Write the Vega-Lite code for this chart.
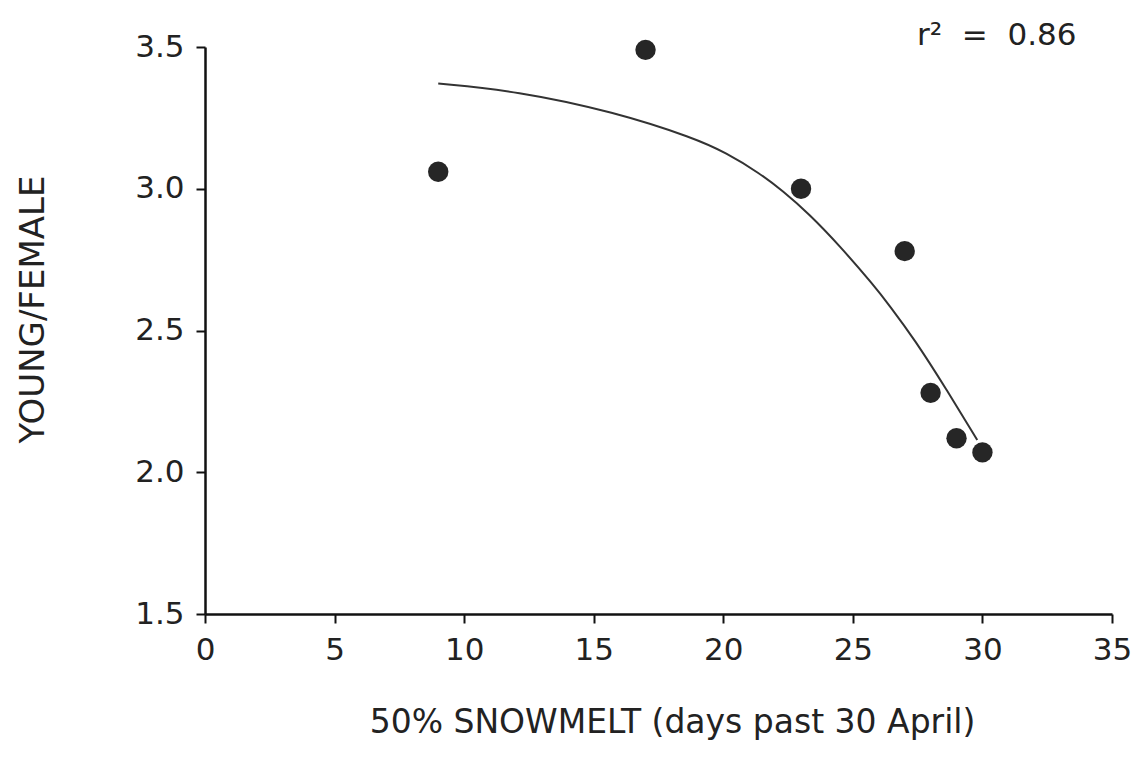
{
  "$schema": "https://vega.github.io/schema/vega-lite/v6.json",
  "width": 907,
  "height": 567,
  "autosize": {"type": "none"},
  "padding": {"left": 205, "top": 47, "right": 28, "bottom": 143},
  "background": "white",
  "config": {"view": {"stroke": null}, "font": "DejaVu Sans"},
  "datasets": {
    "obs": [
      {"snowmelt": 9, "young": 3.06},
      {"snowmelt": 17, "young": 3.49},
      {"snowmelt": 23, "young": 3.0},
      {"snowmelt": 27, "young": 2.78},
      {"snowmelt": 28, "young": 2.28},
      {"snowmelt": 29, "young": 2.12},
      {"snowmelt": 30, "young": 2.07}
    ],
    "fit": [
      {"snowmelt": 9.0, "young": 3.371},
      {"snowmelt": 12.0, "young": 3.345},
      {"snowmelt": 15.8, "young": 3.271},
      {"snowmelt": 18.9, "young": 3.178},
      {"snowmelt": 20.1, "young": 3.127},
      {"snowmelt": 21.4, "young": 3.055},
      {"snowmelt": 22.3, "young": 2.992},
      {"snowmelt": 23.3, "young": 2.912},
      {"snowmelt": 24.5, "young": 2.798},
      {"snowmelt": 25.8, "young": 2.66},
      {"snowmelt": 26.4, "young": 2.59},
      {"snowmelt": 27.4, "young": 2.466},
      {"snowmelt": 28.6, "young": 2.294},
      {"snowmelt": 29.8, "young": 2.114}
    ],
    "note": [
      {"snowmelt": 33.63, "young": 3.507, "label": "r²\u00a0\u00a0=\u00a0\u00a00.86"}
    ]
  },
  "encoding": {
    "x": {
      "field": "snowmelt",
      "type": "quantitative",
      "scale": {"domain": [0, 35], "nice": false, "zero": false},
      "axis": {
        "values": [0, 5, 10, 15, 20, 25, 30, 35],
        "title": "50% SNOWMELT (days past 30 April)",
        "grid": false,
        "domainColor": "#111111",
        "domainWidth": 2.5,
        "tickColor": "#111111",
        "tickWidth": 2,
        "tickSize": 9,
        "labelPadding": 12,
        "labelFontSize": 31,
        "labelColor": "#222222",
        "labelFont": "DejaVu Sans",
        "labelFlush": false,
        "labelOverlap": false,
        "titleFont": "DejaVu Sans",
        "titleFontSize": 33,
        "titleFontWeight": "normal",
        "titleColor": "#222222",
        "titleX": 467,
        "titleY": 108,
        "titleAlign": "center",
        "titleBaseline": "middle"
      }
    },
    "y": {
      "field": "young",
      "type": "quantitative",
      "scale": {"domain": [1.5, 3.5], "nice": false, "zero": false},
      "axis": {
        "values": [1.5, 2.0, 2.5, 3.0, 3.5],
        "format": ".1f",
        "title": "YOUNG/FEMALE",
        "grid": false,
        "domainColor": "#111111",
        "domainWidth": 2.5,
        "tickColor": "#111111",
        "tickWidth": 2,
        "tickSize": 9,
        "labelPadding": 12,
        "labelFontSize": 31,
        "labelColor": "#222222",
        "labelFont": "DejaVu Sans",
        "labelFlush": false,
        "labelOverlap": false,
        "titleFont": "DejaVu Sans",
        "titleFontSize": 34,
        "titleFontWeight": "normal",
        "titleColor": "#222222",
        "titleAngle": -90,
        "titleX": -172,
        "titleY": 262,
        "titleAlign": "center",
        "titleBaseline": "middle"
      }
    }
  },
  "layer": [
    {
      "data": {"name": "fit"},
      "mark": {"type": "line", "interpolate": "basis", "color": "#333333", "strokeWidth": 2}
    },
    {
      "data": {"name": "obs"},
      "mark": {"type": "circle", "size": 415, "opacity": 1, "color": "#262626"}
    },
    {
      "data": {"name": "note"},
      "mark": {"type": "text", "align": "right", "baseline": "alphabetic", "fontSize": 31, "color": "#222222", "font": "DejaVu Sans"},
      "encoding": {"text": {"field": "label", "type": "nominal"}}
    }
  ]
}
